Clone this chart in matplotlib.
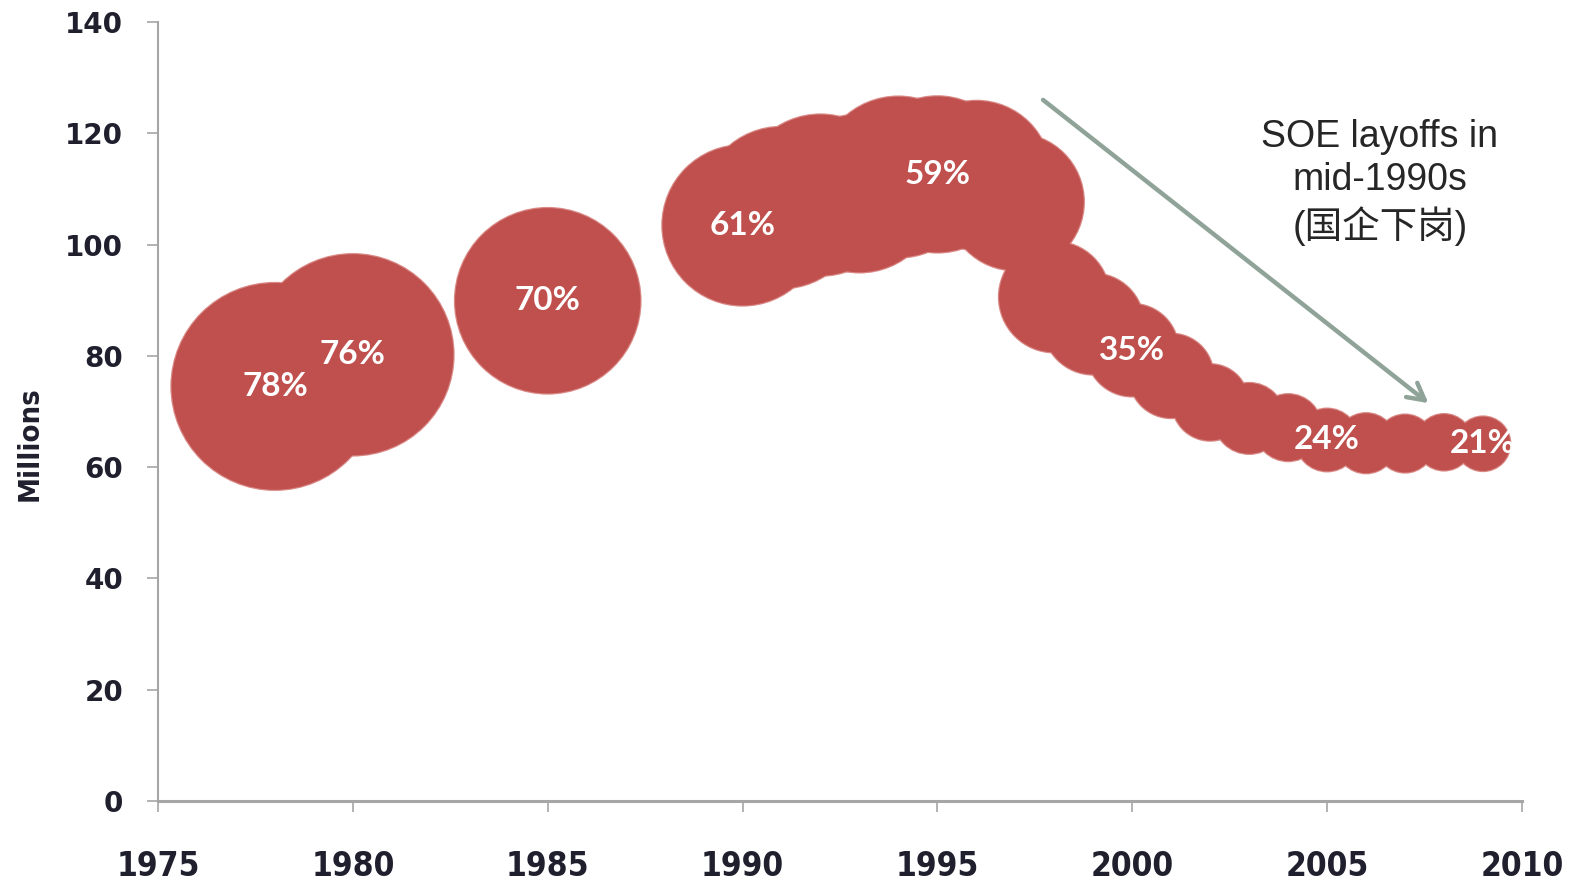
import matplotlib
matplotlib.use("Agg")
import matplotlib.pyplot as plt

# SOE employment (millions) and SOE share of urban employment (%)
years = [1978, 1980, 1985, 1990, 1991, 1992, 1993, 1994, 1995, 1996, 1997,
         1998, 1999, 2000, 2001, 2002, 2003, 2004, 2005, 2006, 2007, 2008, 2009]
soe_emp = [74.51, 80.19, 89.90, 103.46, 106.64, 108.89, 109.20, 112.14, 112.61,
           112.44, 107.66, 90.58, 85.72, 81.02, 76.40, 71.63, 68.76, 67.10,
           64.88, 64.30, 64.24, 64.47, 64.20]
share = [78.3, 76.2, 70.2, 60.7, 61.1, 61.0, 59.8, 60.9, 59.1, 56.4, 51.8,
         41.9, 38.2, 35.0, 31.9, 28.9, 26.8, 25.3, 23.7, 22.7, 21.9, 21.3, 20.6]
labelled_years = [1978, 1980, 1985, 1990, 1995, 2000, 2005, 2009]

DPI = 100
BUBBLE = "#c0504d"
TICK_COLOR = "#1f1f2e"
NARROW = dict(family=["DejaVu Sans"], fontstretch="condensed", fontweight="bold")

fig = plt.figure(figsize=(15.75, 8.82), dpi=DPI)
ax = fig.add_axes([158 / 1575, 1 - 801 / 882, (1522 - 158) / 1575, (801 - 22) / 882])

# radius in pixels ~ 1.32 * share -> marker diameter in points
sizes = [(2 * 1.32 * s * 72 / DPI) ** 2 for s in share]
halo = [(2 * (1.32 * s + 1.2) * 72 / DPI) ** 2 for s in share]
# light rim under the merged blob, then the fill without edges on top
ax.scatter(years, soe_emp, s=halo, color="#d98a87", linewidths=0, zorder=2, clip_on=False)
ax.scatter(years, soe_emp, s=sizes, color=BUBBLE, linewidths=0, zorder=2.5, clip_on=False)

for y, v, s in zip(years, soe_emp, share):
    if y in labelled_years:
        ax.text(y, v, f"{round(s):d}%", ha="center", va="center", color="white",
                fontsize=24, fontweight="bold", family=["Lato", "DejaVu Sans"], zorder=3)

ax.set_xlim(1975, 2010)
ax.set_ylim(0, 140)
ax.set_xticks(range(1975, 2011, 5))
ax.set_yticks(range(0, 141, 20))

for side in ("top", "right"):
    ax.spines[side].set_visible(False)
ax.spines["left"].set_color("#a6a6a6")
ax.spines["left"].set_linewidth(1.5)
ax.spines["bottom"].set_color("#a6a6a6")
ax.spines["bottom"].set_linewidth(2.2)

ax.tick_params(axis="y", length=8, width=1.2, color="#a6a6a6", pad=17,
               labelsize=20, labelcolor=TICK_COLOR)
ax.tick_params(axis="x", length=8, width=1.2, color="#a6a6a6", pad=27,
               labelsize=24, labelcolor=TICK_COLOR)
for lab in ax.get_yticklabels():
    lab.set_fontweight("bold")
    lab.set_family(["DejaVu Sans"])
for lab in ax.get_xticklabels():
    lab.set_fontweight("bold")
    lab.set_family(["DejaVu Sans"])
    lab.set_fontstretch("condensed")

fig.text(30 / 1575, 1 - 444 / 882, "Millions", rotation=90, ha="center", va="center",
         fontsize=21, color=TICK_COLOR, **NARROW)

# annotation arrow and note
ax.annotate("", xy=(2007.6, 71.5), xytext=(1997.71, 126.0),
            arrowprops=dict(arrowstyle="->,head_length=1.2,head_width=0.65",
                            color="#8fa398", lw=3.2, shrinkA=0, shrinkB=0),
            annotation_clip=False, zorder=4)
ax.text(2006.35, 111.1, "SOE layoffs in\nmid-1990s\n(国企下岗)", ha="center", va="center",
        fontsize=27, color="#262626", linespacing=1.25,
        family=["Liberation Sans", "Noto Sans CJK SC"], zorder=4)

fig.savefig("out.png", dpi=DPI)
